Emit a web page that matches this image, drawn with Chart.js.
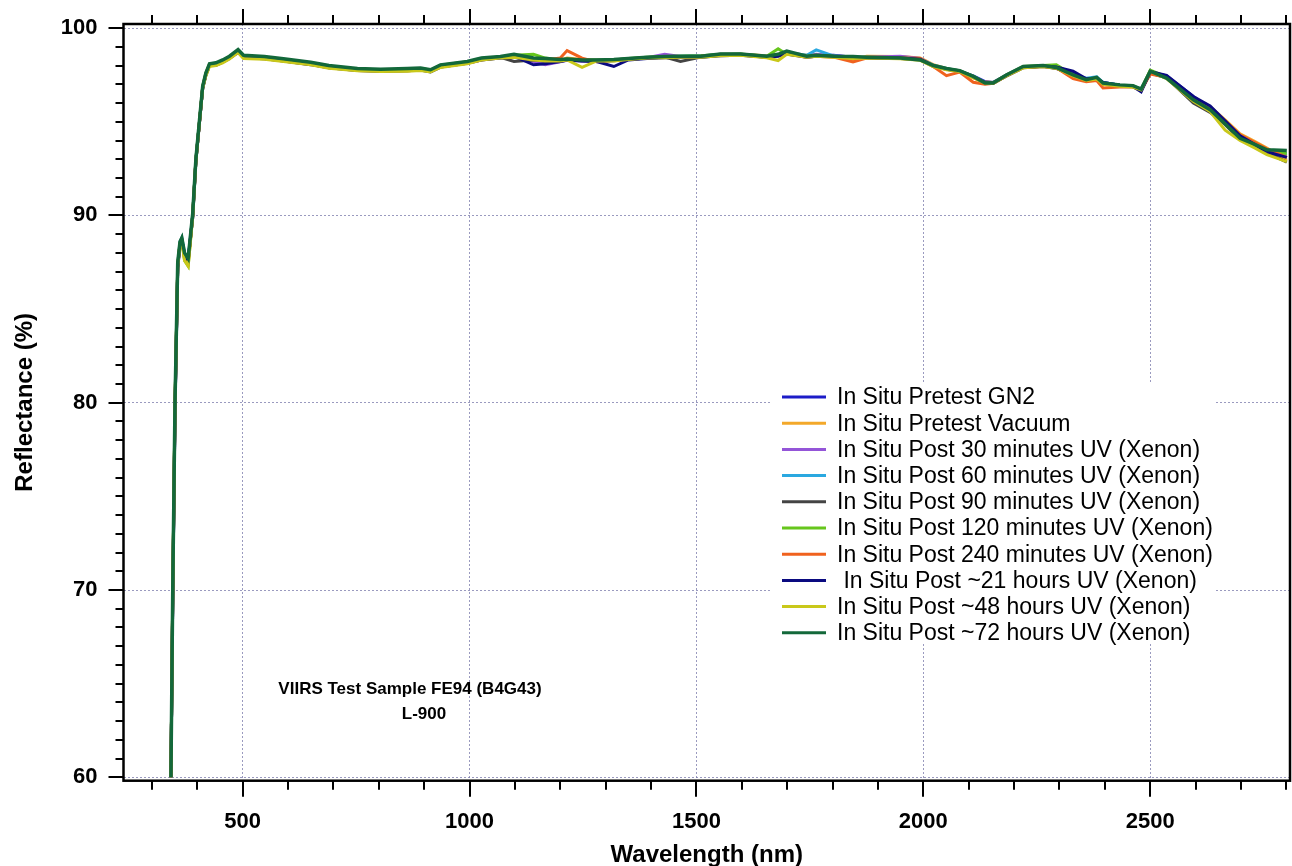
<!DOCTYPE html>
<html>
<head>
<meta charset="utf-8">
<title>VIIRS Test Sample FE94 (B4G43) - L-900</title>
<script src="https://cdn.jsdelivr.net/npm/chart.js@4.4.1/dist/chart.umd.min.js"></script>
<style>
  html, body { margin: 0; padding: 0; background: #fff; }
  #wrap { position: relative; width: 1292px; height: 866px; }
</style>
</head>
<body>
<div id="wrap"><canvas id="chart"></canvas></div>
<script>
// ============================================================================
// DATA
// ============================================================================

const wavelengths = [
    342, 346, 351, 357, 362, 366, 372, 380, 390, 397,
    405, 412, 419, 427, 441, 456, 471, 490, 502, 548,
    590, 650, 690, 753, 804, 863, 892, 914, 936, 995,
    1026, 1068, 1098, 1141, 1167, 1200, 1215, 1248, 1280, 1318,
    1350, 1391, 1430, 1465, 1510, 1553, 1597, 1655, 1680, 1699,
    1743, 1764, 1802, 1845, 1875, 1949, 1993, 2022, 2051, 2080,
    2110, 2136, 2154, 2183, 2220, 2264, 2293, 2330, 2359, 2382,
    2396, 2433, 2462, 2480, 2500, 2536, 2595, 2632, 2665, 2698,
    2730, 2757, 2801
];

const pretestGN2 = [
    60.0, 69.5, 79.6, 87.2, 88.4, 88.6, 87.9, 87.6, 89.9, 92.9,
    95.0, 96.8, 97.5, 98.0, 98.05, 98.2, 98.4, 98.7, 98.45, 98.38,
    98.26, 98.08, 97.9, 97.76, 97.72, 97.74, 97.78, 97.7, 97.95, 98.14,
    98.32, 98.42, 98.45, 98.3, 98.2, 98.25, 98.3, 98.28, 98.25, 98.3,
    98.33, 98.4, 98.45, 98.45, 98.48, 98.55, 98.58, 98.48, 98.55, 98.65,
    98.5, 98.52, 98.55, 98.45, 98.4, 98.38, 98.35, 98.02, 97.8, 97.7,
    97.45, 97.15, 97.1, 97.45, 97.9, 97.98, 97.92, 97.55, 97.28, 97.3,
    97.1, 96.95, 96.9, 96.72, 97.65, 97.45, 96.35, 95.7, 94.95, 94.25,
    93.85, 93.45, 93.1
];

const pretestVacuum = [
    60.0, 69.8, 79.8, 87.3, 88.5, 88.7, 87.8, 87.5, 90.0, 92.9,
    95.0, 96.8, 97.5, 98.0, 98.0, 98.18, 98.4, 98.72, 98.42, 98.36,
    98.24, 98.06, 97.88, 97.74, 97.7, 97.72, 97.76, 97.68, 97.92, 98.12,
    98.3, 98.42, 98.5, 98.35, 98.3, 98.28, 98.4, 98.32, 98.3, 98.28,
    98.35, 98.42, 98.45, 98.48, 98.5, 98.58, 98.6, 98.52, 98.6, 98.68,
    98.55, 98.58, 98.5, 98.3, 98.5, 98.48, 98.4, 98.05, 97.85, 97.7,
    97.35, 97.12, 97.1, 97.48, 97.9, 97.95, 97.88, 97.45, 97.2, 97.3,
    97.0, 96.92, 96.88, 96.7, 97.62, 97.35, 96.3, 95.8, 95.1, 94.35,
    93.95, 93.6, 92.95
];

const post30min = [
    60.0, 69.7, 79.7, 87.3, 88.5, 88.7, 87.9, 87.6, 90.0, 92.95,
    95.0, 96.85, 97.55, 98.05, 98.1, 98.25, 98.45, 98.8, 98.5, 98.44,
    98.32, 98.14, 97.96, 97.8, 97.76, 97.8, 97.84, 97.74, 98.0, 98.18,
    98.36, 98.45, 98.52, 98.2, 98.04, 98.2, 98.3, 98.25, 98.3, 98.3,
    98.36, 98.42, 98.6, 98.48, 98.5, 98.6, 98.6, 98.5, 98.58, 98.7,
    98.5, 98.6, 98.52, 98.45, 98.45, 98.5, 98.38, 98.0, 97.82, 97.72,
    97.4, 97.1, 97.1, 97.5, 97.92, 97.96, 97.85, 97.48, 97.22, 97.32,
    97.05, 96.95, 96.9, 96.72, 97.6, 97.4, 96.25, 95.7, 95.0, 94.2,
    93.85, 93.45, 93.2
];

const post60min = [
    60.0, 69.8, 79.9, 87.4, 88.6, 88.8, 88.0, 87.7, 90.05, 93.0,
    95.05, 96.85, 97.55, 98.05, 98.1, 98.25, 98.45, 98.8, 98.5, 98.44,
    98.3, 98.12, 97.95, 97.8, 97.76, 97.8, 97.82, 97.74, 98.0, 98.18,
    98.36, 98.45, 98.55, 98.35, 98.3, 98.28, 98.32, 98.28, 98.28, 98.3,
    98.36, 98.42, 98.45, 98.5, 98.52, 98.58, 98.6, 98.48, 98.58, 98.7,
    98.55, 98.84, 98.52, 98.42, 98.42, 98.42, 98.35, 98.02, 97.84, 97.72,
    97.42, 97.1, 97.1, 97.48, 97.92, 97.98, 97.9, 97.52, 97.32, 97.4,
    97.1, 96.95, 96.9, 96.75, 97.6, 97.42, 96.28, 95.72, 95.0, 94.2,
    93.85, 93.5, 93.3
];

const post90min = [
    60.0, 69.6, 79.7, 87.3, 88.5, 88.7, 87.9, 87.6, 90.0, 92.9,
    95.0, 96.8, 97.5, 98.0, 98.05, 98.22, 98.42, 98.76, 98.46, 98.4,
    98.28, 98.1, 97.92, 97.78, 97.74, 97.78, 97.8, 97.72, 97.98, 98.16,
    98.34, 98.44, 98.22, 98.3, 98.25, 98.25, 98.3, 98.26, 98.22, 98.26,
    98.33, 98.4, 98.45, 98.22, 98.45, 98.55, 98.56, 98.45, 98.52, 98.66,
    98.48, 98.5, 98.48, 98.42, 98.4, 98.38, 98.32, 97.95, 97.8, 97.68,
    97.38, 97.08, 97.05, 97.45, 97.88, 97.95, 97.85, 97.48, 97.22, 97.3,
    97.02, 96.92, 96.88, 96.7, 97.6, 97.35, 96.0, 95.5, 94.85, 94.05,
    93.7, 93.35, 92.85
];

const post120min = [
    60.0, 69.9, 80.0, 87.4, 88.5, 88.7, 87.6, 87.3, 90.0, 93.0,
    95.05, 96.9, 97.6, 98.08, 98.12, 98.28, 98.48, 98.82, 98.5, 98.45,
    98.33, 98.15, 97.97, 97.82, 97.78, 97.82, 97.85, 97.76, 98.02, 98.2,
    98.38, 98.46, 98.55, 98.6, 98.4, 98.3, 98.35, 98.3, 98.3, 98.3,
    98.38, 98.44, 98.48, 98.5, 98.52, 98.6, 98.62, 98.5, 98.9, 98.6,
    98.5, 98.55, 98.5, 98.45, 98.45, 98.4, 98.32, 98.0, 97.82, 97.72,
    97.42, 97.08, 97.08, 97.5, 97.95, 98.0, 98.04, 97.5, 97.25, 97.35,
    97.05, 96.95, 96.92, 96.72, 97.75, 97.4, 96.2, 95.65, 94.9, 94.1,
    93.75, 93.45, 93.3
];

const post240min = [
    60.0, 69.7, 79.8, 87.3, 88.5, 88.7, 87.7, 87.45, 90.0, 92.95,
    95.0, 96.85, 97.55, 98.05, 98.08, 98.24, 98.44, 98.78, 98.46, 98.4,
    98.28, 98.1, 97.92, 97.76, 97.72, 97.76, 97.8, 97.7, 97.96, 98.16,
    98.34, 98.44, 98.5, 98.35, 98.3, 98.4, 98.8, 98.4, 98.2, 98.28,
    98.35, 98.42, 98.46, 98.48, 98.5, 98.55, 98.58, 98.45, 98.55, 98.65,
    98.45, 98.5, 98.45, 98.2, 98.4, 98.42, 98.38, 97.95, 97.46, 97.65,
    97.11, 97.0, 97.05, 97.45, 97.9, 97.96, 97.88, 97.3, 97.14, 97.2,
    96.8, 96.85, 96.85, 96.68, 97.55, 97.38, 96.25, 95.75, 95.05, 94.3,
    93.9, 93.55, 93.1
];

const post21h = [
    60.0, 69.5, 79.5, 87.2, 88.4, 88.7, 87.9, 87.6, 89.9, 92.9,
    95.0, 96.8, 97.5, 98.0, 98.02, 98.18, 98.38, 98.72, 98.42, 98.36,
    98.24, 98.05, 97.88, 97.74, 97.7, 97.72, 97.76, 97.66, 97.92, 98.12,
    98.3, 98.4, 98.5, 98.04, 98.1, 98.22, 98.28, 98.25, 98.22, 97.95,
    98.3, 98.38, 98.42, 98.45, 98.45, 98.52, 98.55, 98.45, 98.5, 98.62,
    98.45, 98.5, 98.5, 98.45, 98.42, 98.4, 98.34, 97.98, 97.82, 97.7,
    97.4, 97.1, 97.08, 97.45, 97.9, 97.96, 97.92, 97.7, 97.3, 97.32,
    97.1, 96.95, 96.88, 96.6, 97.68, 97.48, 96.35, 95.85, 95.05, 94.25,
    93.8, 93.4, 93.1
];

const post48h = [
    60.0, 69.8, 79.8, 87.3, 88.5, 88.6, 87.6, 87.3, 89.9, 92.9,
    95.0, 96.8, 97.45, 97.95, 98.0, 98.15, 98.35, 98.7, 98.38, 98.34,
    98.22, 98.04, 97.86, 97.72, 97.68, 97.7, 97.74, 97.66, 97.9, 98.1,
    98.3, 98.4, 98.45, 98.3, 98.25, 98.25, 98.3, 97.9, 98.25, 98.25,
    98.32, 98.4, 98.42, 98.45, 98.45, 98.52, 98.55, 98.42, 98.27, 98.6,
    98.45, 98.5, 98.45, 98.38, 98.4, 98.36, 98.28, 97.95, 97.78, 97.68,
    97.36, 97.05, 97.05, 97.45, 97.88, 97.95, 97.86, 97.45, 97.2, 97.28,
    97.0, 96.9, 96.85, 96.7, 97.7, 97.3, 96.1, 95.55, 94.55, 94.0,
    93.6, 93.25, 92.87
];

const post72h = [
    60.0, 70.0, 80.0, 87.5, 88.6, 88.8, 88.0, 87.7, 90.1, 93.0,
    95.1, 96.9, 97.6, 98.1, 98.15, 98.3, 98.5, 98.85, 98.55, 98.48,
    98.36, 98.18, 98.0, 97.84, 97.8, 97.84, 97.87, 97.78, 98.04, 98.22,
    98.4, 98.48, 98.6, 98.4, 98.38, 98.33, 98.35, 98.3, 98.3, 98.33,
    98.38, 98.45, 98.48, 98.5, 98.5, 98.62, 98.62, 98.5, 98.6, 98.77,
    98.5, 98.55, 98.5, 98.48, 98.45, 98.4, 98.3, 98.0, 97.84, 97.73,
    97.42, 97.07, 97.07, 97.5, 97.95, 98.0, 97.9, 97.5, 97.25, 97.37,
    97.07, 96.97, 96.93, 96.75, 97.7, 97.33, 96.17, 95.64, 94.9, 94.12,
    93.8, 93.5, 93.46
];

const seriesLabels = [
    'In Situ Pretest GN2',
    'In Situ Pretest Vacuum',
    'In Situ Post 30 minutes UV (Xenon)',
    'In Situ Post 60 minutes UV (Xenon)',
    'In Situ Post 90 minutes UV (Xenon)',
    'In Situ Post 120 minutes UV (Xenon)',
    'In Situ Post 240 minutes UV (Xenon)',
    ' In Situ Post ~21 hours UV (Xenon)',
    'In Situ Post ~48 hours UV (Xenon)',
    'In Situ Post ~72 hours UV (Xenon)'
];

const seriesValues = [
    pretestGN2, pretestVacuum, post30min, post60min, post90min,
    post120min, post240min, post21h, post48h, post72h
];

const seriesColors = [
    '#1c1cc8', '#f3a82a', '#9455d8', '#2aa8e0', '#444444',
    '#66c61c', '#f0621e', '#0a0a80', '#c9c81a', '#13683a'
];

const xTickValues = [500, 1000, 1500, 2000, 2500];
const yTickValues = [60, 70, 80, 90, 100];

const sampleTitle = ['VIIRS Test Sample FE94 (B4G43)', 'L-900'];

// ============================================================================
// PLUGIN: white background, box frame, major/minor ticks, legend, note
// ============================================================================

const FONT = '"Liberation Sans", Arial, Helvetica, sans-serif';

const decorPlugin = {
    id: 'decor',
    beforeDraw(chart) {
        const ctx = chart.ctx;
        ctx.save();
        ctx.fillStyle = '#ffffff';
        ctx.fillRect(0, 0, chart.width, chart.height);
        ctx.restore();
    },
    afterDraw(chart) {
        const { ctx, chartArea: a, scales } = chart;
        const x = scales.x;
        const y = scales.y;

        ctx.save();
        ctx.strokeStyle = '#000';
        ctx.lineWidth = 2;
        ctx.lineCap = 'butt';

        // x ticks: every 100 nm, major at 500 multiples (bottom and top)
        for (let v = 300; v <= 2800; v += 100) {
            const px = Math.round(x.getPixelForValue(v));
            const major = v % 500 === 0;
            ctx.beginPath();
            ctx.moveTo(px, a.bottom);
            ctx.lineTo(px, a.bottom + (major ? 16 : 9));
            ctx.moveTo(px, a.top);
            ctx.lineTo(px, a.top - (major ? 15 : 9));
            ctx.stroke();
        }

        // y ticks: every 1 %, major at 10 % multiples
        for (let v = 60; v <= 100; v += 1) {
            const py = Math.round(y.getPixelForValue(v));
            const major = v % 10 === 0;
            ctx.beginPath();
            ctx.moveTo(a.left, py);
            ctx.lineTo(a.left - (major ? 15 : 8), py);
            ctx.stroke();
        }

        // frame
        ctx.lineWidth = 2.5;
        ctx.strokeRect(a.left, a.top, a.right - a.left, a.bottom - a.top);

        // legend box
        const lx = 772, ly = 384, lw = 444, lh = 259;
        ctx.fillStyle = '#ffffff';
        ctx.fillRect(lx, ly, lw, lh);
        ctx.font = '23px ' + FONT;
        ctx.textBaseline = 'middle';
        ctx.textAlign = 'left';
        chart.data.datasets.forEach((ds, i) => {
            const ry = 397 + i * 26.2;
            ctx.strokeStyle = ds.borderColor;
            ctx.lineWidth = 3;
            ctx.beginPath();
            ctx.moveTo(782, ry);
            ctx.lineTo(826, ry);
            ctx.stroke();
            ctx.fillStyle = '#000';
            ctx.fillText(ds.label, 837, ry + 1);
        });

        // sample note
        ctx.font = 'bold 17px ' + FONT;
        ctx.textAlign = 'center';
        ctx.fillStyle = '#000';
        ctx.fillText(sampleTitle[0], 410, 689);
        ctx.fillText(sampleTitle[1], 424, 714);

        ctx.restore();
    }
};

// ============================================================================
// CHART
// ============================================================================

const datasets = seriesValues.map((vals, i) => ({
    label: seriesLabels[i],
    data: wavelengths.map((w, k) => ({ x: w, y: vals[k] })),
    borderColor: seriesColors[i],
    backgroundColor: seriesColors[i],
    borderWidth: i === seriesValues.length - 1 ? 3.5 : 3,
    pointRadius: 0,
    tension: 0,
    fill: false,
    order: seriesValues.length - 1 - i
}));

const gridColor = 'rgba(120, 120, 170, 0.75)';

new Chart(document.getElementById('chart'), {
    type: 'line',
    data: { datasets: datasets },
    options: {
        responsive: true,
        maintainAspectRatio: false,
        animation: false,
        events: [],
        layout: { padding: { top: 24, right: 2, left: 0, bottom: 0 } },
        plugins: {
            legend: { display: false },
            tooltip: { enabled: false }
        },
        scales: {
            x: {
                type: 'linear',
                min: 237.5,
                max: 2808,
                afterBuildTicks: (scale) => {
                    scale.ticks = xTickValues.map(v => ({ value: v }));
                },
                afterFit: (scale) => {
                    scale.height = 85.3;
                    scale.paddingLeft = 0;
                    scale.paddingRight = 0;
                },
                grid: {
                    color: gridColor,
                    lineWidth: 1,
                    drawTicks: false
                },
                border: { display: false, dash: [2, 2] },
                ticks: {
                    padding: 28,
                    color: '#000',
                    maxRotation: 0,
                    font: { family: FONT, size: 22, weight: 'bold' },
                    callback: (v) => String(v)
                },
                title: {
                    display: true,
                    text: 'Wavelength (nm)',
                    color: '#000',
                    font: { family: FONT, size: 24, weight: 'bold', lineHeight: 1 },
                    padding: { top: 0, bottom: -1 }
                }
            },
            y: {
                type: 'linear',
                min: 59.82,
                max: 100.22,
                afterBuildTicks: (scale) => {
                    scale.ticks = yTickValues.map(v => ({ value: v }));
                },
                afterFit: (scale) => {
                    scale.width = 123.5;
                    scale.paddingTop = 0;
                    scale.paddingBottom = 0;
                },
                grid: {
                    color: gridColor,
                    lineWidth: 1,
                    drawTicks: false
                },
                border: { display: false, dash: [2, 2] },
                ticks: {
                    padding: 26,
                    color: '#000',
                    font: { family: FONT, size: 22, weight: 'bold' },
                    callback: (v) => String(v)
                },
                title: {
                    display: true,
                    text: 'Reflectance (%)',
                    color: '#000',
                    font: { family: FONT, size: 24, weight: 'bold', lineHeight: 1 },
                    padding: { top: 13, bottom: 0 }
                }
            }
        }
    },
    plugins: [decorPlugin]
});
</script>
</body>
</html>
